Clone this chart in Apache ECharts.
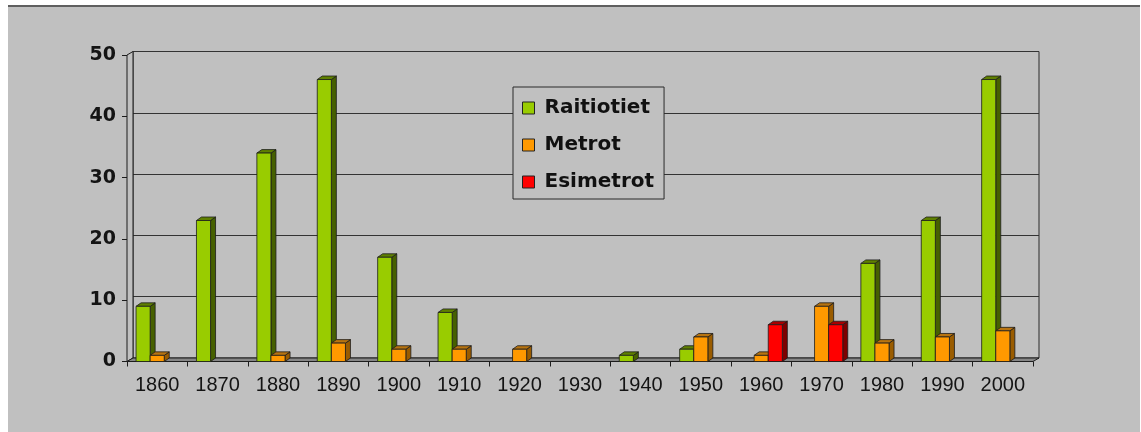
<!DOCTYPE html>
<html>
<head>
<meta charset="utf-8">
<script src="https://cdn.jsdelivr.net/npm/echarts@6/dist/echarts.min.js"></script>
<style>
  html, body { margin: 0; padding: 0; background: #ffffff; width: 1141px; height: 432px; overflow: hidden; }
  #frame { position: absolute; left: 8px; top: 5px; width: 1132px; height: 427px; background: #c0c0c0;
           border-top: 2px solid #5f5f5f; box-sizing: border-box; }
  #chart { position: absolute; left: 0; top: 0; width: 1141px; height: 432px; }
</style>
</head>
<body>
<div id="frame"></div>
<div id="chart"></div>
<script>
// Openings per decade
const decades = ['1860', '1870', '1880', '1890', '1900', '1910', '1920', '1930',
                 '1940', '1950', '1960', '1970', '1980', '1990', '2000'];
const raitiotiet = [9, 23, 34, 46, 17, 8, 0, 0, 1, 2, 0, 0, 16, 23, 46];
const metrot     = [1, 0, 1, 3, 2, 2, 2, 0, 0, 4, 1, 9, 3, 4, 5];
const esimetrot  = [0, 0, 0, 0, 0, 0, 0, 0, 0, 0, 6, 6, 0, 0, 0];
const seriesNames = ['Raitiotiet', 'Metrot', 'Esimetrot'];
const yMin = 0, yMax = 50, yStep = 10;

// face colours for the pseudo-3D columns: front, right side, top
const faces = [
  { front: '#99cc00', side: '#466000', top: '#5f8000' },
  { front: '#ff9900', side: '#9a5c00', top: '#b87410' },
  { front: '#ff0000', side: '#7e0000', top: '#a80000' }
];

// depth of the columns and of the back wall
const BDX = 5, BDY = 3.5;
const WDX = 6, WDY = 3.5;
const EDGE = '#1c1c1c';

function columnRenderer(slot) {
  const f = faces[slot];
  return function (params, api) {
    const v = api.value(1);
    if (!v) return null;
    const ci = api.value(0);
    const base = api.coord([ci, 0]);
    const top = api.coord([ci, v]);
    const band = api.size([1, 0])[0];
    const w = band * 0.7 / 3;
    const x0 = base[0] - 1.5 * w + slot * w, x1 = x0 + w;
    const y0 = base[1], y1 = top[1];
    const line = { stroke: EDGE, lineWidth: 0.8 };
    return {
      type: 'group',
      children: [
        { type: 'polygon', shape: { points: [[x1, y0], [x1 + BDX, y0 - BDY], [x1 + BDX, y1 - BDY], [x1, y1]] },
          style: Object.assign({ fill: f.side }, line) },
        { type: 'polygon', shape: { points: [[x0, y1], [x1, y1], [x1 + BDX, y1 - BDY], [x0 + BDX, y1 - BDY]] },
          style: Object.assign({ fill: f.top }, line) },
        { type: 'rect', shape: { x: x0, y: y1, width: w, height: y0 - y1 },
          style: Object.assign({ fill: f.front }, line) }
      ]
    };
  };
}

// floor and left side wall of the plot box
function frameRenderer(params, api) {
  const band = api.size([1, 0])[0];
  const p0 = api.coord([0, yMin]);
  const pN = api.coord([decades.length - 1, yMin]);
  const pT = api.coord([0, yMax]);
  const xL = p0[0] - band / 2, xR = pN[0] + band / 2, y0 = p0[1], yT = pT[1];
  return {
    type: 'group',
    children: [
      { type: 'polygon', shape: { points: [[xL, y0], [xL, yT], [xL + WDX, yT - WDY], [xL + WDX, y0 - WDY]] },
        style: { fill: '#c0c0c0', stroke: EDGE, lineWidth: 1 } },
      { type: 'polygon', shape: { points: [[xL, y0], [xR, y0], [xR + WDX, y0 - WDY], [xL + WDX, y0 - WDY]] },
        style: { fill: '#868686', stroke: EDGE, lineWidth: 1 } }
    ]
  };
}

const valueSets = [raitiotiet, metrot, esimetrot];

const chart = echarts.init(document.getElementById('chart'), null, { renderer: 'canvas' });
chart.setOption({
  animation: false,
  backgroundColor: 'transparent',
  grid: [
    // back wall
    { left: 133, right: 102, top: 51.5, bottom: 74, show: true, backgroundColor: 'transparent',
      borderColor: '#2a2a2a', borderWidth: 1 },
    // front plane
    { left: 127, right: 108, top: 55, bottom: 70.5 }
  ],
  legend: {
    data: seriesNames,
    orient: 'vertical',
    left: 513,
    top: 87,
    icon: 'rect',
    itemWidth: 12,
    itemHeight: 12,
    itemGap: 17,
    padding: [11, 10, 7, 9],
    backgroundColor: '#c0c0c0',
    borderColor: '#2a2a2a',
    borderWidth: 1,
    itemStyle: { borderColor: '#222', borderWidth: 1 },
    textStyle: {
      fontFamily: 'DejaVu Sans', fontWeight: 'bold', fontSize: 20, lineHeight: 20,
      color: '#111', padding: [0, 0, 0, 5]
    }
  },
  xAxis: [
    { gridIndex: 0, type: 'category', data: decades, show: false },
    {
      gridIndex: 1, type: 'category', data: decades,
      axisLine: { show: false },
      axisTick: { show: true, length: 5, lineStyle: { color: '#1c1c1c' } },
      axisLabel: { margin: 14, fontFamily: 'Liberation Sans', fontSize: 20, color: '#141414' }
    }
  ],
  yAxis: [
    {
      gridIndex: 0, type: 'value', min: yMin, max: yMax, interval: yStep,
      axisLine: { show: false }, axisTick: { show: false }, axisLabel: { show: false },
      splitLine: { lineStyle: { color: '#333333', width: 1 } }
    },
    {
      gridIndex: 1, type: 'value', min: yMin, max: yMax, interval: yStep,
      axisLine: { show: false },
      axisTick: { show: true, length: 5, lineStyle: { color: '#1c1c1c' } },
      axisLabel: { margin: 11, fontFamily: 'DejaVu Sans', fontWeight: 'bold', fontSize: 19, color: '#141414' },
      splitLine: { show: false }
    }
  ],
  series: [
    {
      type: 'custom', xAxisIndex: 1, yAxisIndex: 1, silent: true, z: 1,
      data: [[0, 0]], renderItem: frameRenderer
    }
  ].concat(seriesNames.map(function (name, s) {
    return {
      name: name, type: 'custom', xAxisIndex: 1, yAxisIndex: 1, z: 2 + s,
      itemStyle: { color: faces[s].front, borderColor: '#222', borderWidth: 1 },
      encode: { x: 0, y: 1 },
      data: valueSets[s].map(function (v, i) { return [i, v]; }),
      renderItem: columnRenderer(s)
    };
  }))
});
</script>
</body>
</html>
